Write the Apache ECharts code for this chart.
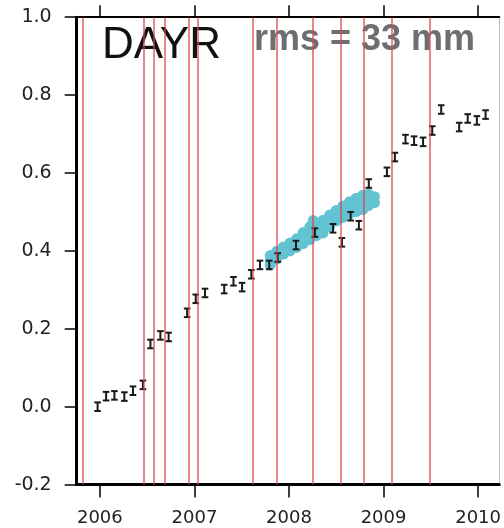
<!DOCTYPE html>
<html>
<head>
<meta charset="utf-8">
<script src="https://cdn.jsdelivr.net/npm/echarts@6/dist/echarts.min.js"></script>
<style>
  html, body { margin: 0; padding: 0; background: #fff; }
  #chart { width: 504px; height: 528px; }
</style>
</head>
<body>
<div id="chart"></div>
<script>
// 误差棒点 (年份, 值, 半误差)
var errYear = [2005.976, 2006.066, 2006.154, 2006.259, 2006.35, 2006.455, 2006.535, 2006.64, 2006.727,
  2006.923, 2007.014, 2007.112, 2007.315, 2007.413, 2007.504, 2007.602, 2007.693, 2007.791, 2007.881,
  2008.074, 2008.274, 2008.466, 2008.56, 2008.652, 2008.739, 2008.844,
  2009.036, 2009.12, 2009.232, 2009.323, 2009.418, 2009.515, 2009.61, 2009.80, 2009.89, 2009.987, 2010.079];
var errValue = [0.000, 0.027, 0.029, 0.026, 0.041, 0.056, 0.161, 0.183, 0.179,
  0.241, 0.277, 0.292, 0.302, 0.322, 0.307, 0.340, 0.364, 0.364, 0.383,
  0.415, 0.447, 0.458, 0.422, 0.489, 0.466, 0.573,
  0.603, 0.641, 0.687, 0.683, 0.680, 0.709, 0.763, 0.718, 0.740, 0.735, 0.750];
var errHalf = 0.011;

// 青色点云
var cyanYear = [
  2007.802, 2007.802, 2007.802,
  2007.87, 2007.87, 2007.87,
  2007.941, 2007.941, 2007.941,
  2008.01, 2008.01, 2008.01,
  2008.081, 2008.081, 2008.081,
  2008.15, 2008.15, 2008.15,
  2008.221, 2008.221, 2008.221, 2008.221,
  2008.256,
  2008.29, 2008.29, 2008.29,
  2008.361, 2008.361, 2008.361, 2008.361,
  2008.43, 2008.43, 2008.43,
  2008.50, 2008.50, 2008.50,
  2008.57, 2008.57, 2008.57,
  2008.641, 2008.641, 2008.641, 2008.641,
  2008.71, 2008.71, 2008.71,
  2008.781, 2008.781, 2008.781, 2008.781,
  2008.84, 2008.84, 2008.84,
  2008.904, 2008.904];
var cyanValue = [
  0.388, 0.376, 0.364,
  0.399, 0.389, 0.379,
  0.410, 0.401, 0.392,
  0.420, 0.410, 0.400,
  0.431, 0.420, 0.409,
  0.447, 0.433, 0.419,
  0.462, 0.450, 0.440, 0.429,
  0.478,
  0.471, 0.455, 0.439,
  0.479, 0.468, 0.457, 0.446,
  0.492, 0.477, 0.462,
  0.504, 0.490, 0.477,
  0.515, 0.500, 0.486,
  0.526, 0.515, 0.505, 0.495,
  0.535, 0.518, 0.501,
  0.543, 0.530, 0.518, 0.506,
  0.546, 0.531, 0.516,
  0.539, 0.524];

// 红色竖线
var redLines = [2005.822, 2006.462, 2006.574, 2006.693, 2006.944, 2007.042, 2007.623, 2007.868,
  2008.253, 2008.547, 2008.794, 2009.088, 2009.494];

var xTicks = [2006, 2007, 2008, 2009, 2010];
var xMin = 2005.755, xMax = 2010.224;

var errData = [];
for (var i = 0; i < errYear.length; i++) {
  errData.push([errYear[i], errValue[i], errHalf]);
}
var cyanData = [];
for (var j = 0; j < cyanYear.length; j++) {
  cyanData.push([cyanYear[j], cyanValue[j]]);
}

function renderErr(params, api) {
  var x = api.value(0), y = api.value(1), e = api.value(2);
  var lo = api.coord([x, y - e]);
  var hi = api.coord([x, y + e]);
  var w = 3.3;
  var st = { stroke: '#1a1a1a', lineWidth: 2 };
  return {
    type: 'group',
    children: [
      { type: 'line', shape: { x1: lo[0], y1: lo[1], x2: hi[0], y2: hi[1] }, style: st },
      { type: 'line', shape: { x1: lo[0] - w, y1: lo[1], x2: lo[0] + w, y2: lo[1] }, style: st },
      { type: 'line', shape: { x1: hi[0] - w, y1: hi[1], x2: hi[0] + w, y2: hi[1] }, style: st }
    ]
  };
}

var chart = echarts.init(document.getElementById('chart'));
var option = {
  animation: false,
  backgroundColor: '#fff',
  grid: { left: 76.7, right: 1.5, top: 17.2, bottom: 43.4 },
  graphic: [
    {
      type: 'text', left: 102, top: 24, z: 0,
      style: { text: 'DAYR', fill: '#111', font: '44px "Liberation Sans"' }
    },
    {
      type: 'text', left: 254, top: 22, z: 0,
      style: { text: 'rms = 33 mm', fill: '#6d6e71', font: 'bold 36px "Liberation Sans"' }
    }
  ],
  xAxis: [{
    type: 'value', min: xMin, max: xMax, position: 'bottom',
    axisLine: { show: true, onZero: false, lineStyle: { color: '#000', width: 3 } },
    axisTick: { show: true, length: 13, lineStyle: { color: '#000', width: 1.5 }, customValues: xTicks },
    axisLabel: { margin: 25, fontSize: 18, fontFamily: 'DejaVu Sans', color: '#222', customValues: xTicks,
      formatter: function (v) { return String(Math.round(v)); } },
    splitLine: { show: false }
  }, {
    type: 'value', min: xMin, max: xMax, position: 'top',
    axisLine: { show: true, onZero: false, lineStyle: { color: '#000', width: 2 } },
    axisTick: { show: true, length: 12, lineStyle: { color: '#000', width: 1.5 }, customValues: xTicks },
    axisLabel: { show: false },
    splitLine: { show: false }
  }],
  yAxis: [{
    type: 'value', min: -0.2, max: 1.0, interval: 0.2, position: 'left',
    axisLine: { show: true, onZero: false, lineStyle: { color: '#000', width: 3 } },
    axisTick: { show: true, length: 12, lineStyle: { color: '#000', width: 1.5 } },
    axisLabel: { margin: 25, fontSize: 19, fontFamily: 'DejaVu Sans', color: '#222',
      formatter: function (v) { return v.toFixed(1); } },
    splitLine: { show: false }
  }, {
    type: 'value', min: -0.2, max: 1.0, position: 'right',
    axisLine: { show: true, onZero: false, lineStyle: { color: '#bbb', width: 1 } },
    axisTick: { show: false }, axisLabel: { show: false }, splitLine: { show: false }
  }],
  series: [{
    type: 'scatter',
    data: cyanData,
    symbolSize: 11,
    itemStyle: { color: '#62c4d3', opacity: 1 },
    z: 3
  }, {
    type: 'custom',
    data: errData,
    renderItem: renderErr,
    z: 4
  }, {
    type: 'scatter',
    data: [],
    z: 6,
    markLine: {
      silent: true,
      symbol: ['none', 'none'],
      label: { show: false },
      lineStyle: { color: '#d9454a', width: 1.5, type: 'solid', opacity: 0.85 },
      data: redLines.map(function (v) { return { xAxis: v }; })
    }
  }]
};
chart.setOption(option);
</script>
</body>
</html>
